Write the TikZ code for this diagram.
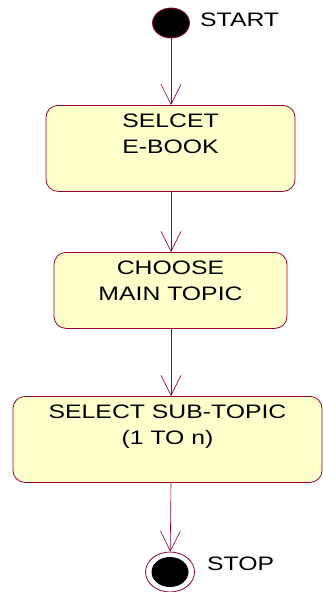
\documentclass[tikz,border=0pt]{standalone}
\usepackage{fontspec}
\setmainfont{Liberation Sans}[FakeStretch=1.27]
\usetikzlibrary{shapes.geometric,arrows.meta}

\definecolor{umlred}{HTML}{990033}
\definecolor{umlfill}{HTML}{FFFFCC}

\tikzset{
  state/.style={draw=umlred, fill=umlfill, line width=0.8pt, rounded corners=12pt,
    align=center, anchor=north, inner xsep=0pt, inner ysep=8pt, text height=40pt,
    font=\fontsize{19.5}{26}\selectfont},
  caption/.style={anchor=west, inner sep=0pt, font=\fontsize{19.5}{26}\selectfont},
  flow/.style={draw=umlred, line width=0.6pt, -{Straight Barb[length=20pt,width=20pt]}}
}

\begin{document}
\begin{tikzpicture}[x=1pt,y=-1pt]
\useasboundingbox (0,0) rectangle (323,592);

% initial state
\node (start) [ellipse, draw=umlred, fill=black, line width=0.8pt,
  minimum width=37pt, minimum height=30pt, inner sep=0pt] at (171,23) {};
\node (startlabel) [caption] at (200,20) {START};

% activities
\node (ebook) [state, minimum width=249pt, text depth=30pt] at (170.5,105) {SELCET\\E-BOOK};
\node (topic) [state, minimum width=233pt, text depth=20pt] at (170.5,252) {CHOOSE\\MAIN TOPIC};
\node (subtopic) [state, minimum width=309pt, text depth=30pt] at (167.5,396) {SELECT SUB-TOPIC\\(1 TO n)};

% final state
\node (stop) [ellipse, draw=umlred, fill=white, line width=0.8pt,
  minimum width=49pt, minimum height=40pt, inner sep=0pt,
  path picture={\fill[black] (path picture bounding box.center) ellipse (18.5pt and 15pt);}] at (170,572) {};
\node (stoplabel) [caption] at (207,563.5) {STOP};

% transitions
\draw[flow] (start) -- (start |- ebook.north);
\draw[flow] (ebook.south -| start) -- (topic.north -| start);
\draw[flow] (topic.south -| start) -- (subtopic.north -| start);
\draw[flow] (subtopic.south -| start) -- (stop);
\end{tikzpicture}
\end{document}
